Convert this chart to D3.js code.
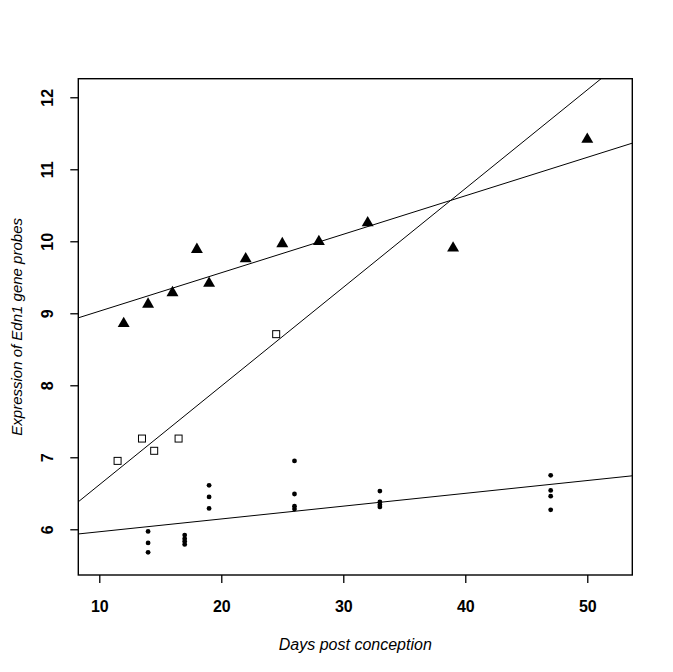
<!DOCTYPE html>
<html lang="en">
<head>
    <meta charset="UTF-8">
    <title>Edn1 expression</title>
    <script src="https://d3js.org/d3.v7.min.js"></script>
    <style>
        body { margin: 0; background: #fff; }
        .tick-label { font-family: "Liberation Sans", Arial, sans-serif; font-size: 16px; font-weight: bold; }
        .axis-title { font-family: "Liberation Sans", Arial, sans-serif; font-size: 15px; font-style: italic; }
    </style>
</head>
<body>
    <svg id="chart" width="673" height="672"></svg>
    <script>
        // group 1: filled triangles
        const triDays = [12, 14, 16, 18, 19, 22, 25, 28, 32, 39, 50];
        const triExpr = [8.88, 9.15, 9.31, 9.91, 9.44, 9.78, 9.99, 10.02, 10.28, 9.93, 11.44];

        // group 2: open squares
        const sqDays = [11.5, 13.5, 14.5, 16.5, 24.5];
        const sqExpr = [6.95, 7.26, 7.09, 7.26, 8.71];

        // group 3: small dots
        const dotDays = [14, 14, 14, 17, 17, 17, 17, 19, 19, 19, 26, 26, 26, 26, 33, 33, 33, 33, 47, 47, 47, 47];
        const dotExpr = [5.97, 5.81, 5.68, 5.92, 5.87, 5.83, 5.79, 6.61, 6.45, 6.29,
                         6.95, 6.49, 6.32, 6.28, 6.53, 6.38, 6.34, 6.31, 6.75, 6.54, 6.46, 6.27];

        const xTicks = [10, 20, 30, 40, 50];
        const yTicks = [6, 7, 8, 9, 10, 11, 12];

        const svg = d3.select("#chart");
        const box = { left: 78.3, right: 632.3, top: 78.7, bottom: 575 };

        const x = d3.scaleLinear().domain([8.28, 53.69]).range([box.left, box.right]);
        const y = d3.scaleLinear().domain([5.365, 12.258]).range([box.bottom, box.top]);

        // least squares line, like abline(lm(y ~ x))
        function fit(xs, ys) {
            const mx = d3.mean(xs), my = d3.mean(ys);
            const sxy = d3.sum(xs, (v, i) => (v - mx) * (ys[i] - my));
            const sxx = d3.sum(xs, v => (v - mx) * (v - mx));
            const b = sxy / sxx;
            return { a: my - b * mx, b };
        }

        svg.append("clipPath").attr("id", "plot-clip")
            .append("rect")
            .attr("x", box.left).attr("y", box.top)
            .attr("width", box.right - box.left).attr("height", box.bottom - box.top);

        const plot = svg.append("g").attr("clip-path", "url(#plot-clip)");

        const xs = x.domain();
        [fit(triDays, triExpr), fit(sqDays, sqExpr), fit(dotDays, dotExpr)].forEach(f => {
            plot.append("line")
                .attr("x1", x(xs[0])).attr("y1", y(f.a + f.b * xs[0]))
                .attr("x2", x(xs[1])).attr("y2", y(f.a + f.b * xs[1]))
                .attr("stroke", "#000").attr("stroke-width", 1);
        });

        // points (triangle shifted so its box centre sits on the value, like pch 17)
        const triSize = 62;
        const triShift = Math.sqrt(triSize * 4 / Math.sqrt(3)) * Math.sqrt(3) / 2 / 6;
        plot.selectAll(".tri")
            .data(triDays.map((d, i) => [d, triExpr[i]]))
            .enter().append("path")
            .attr("d", d3.symbol(d3.symbolTriangle, triSize))
            .attr("transform", d => `translate(${x(d[0])},${y(d[1]) + triShift})`)
            .attr("fill", "#000");

        plot.selectAll(".sq")
            .data(sqDays.map((d, i) => [d, sqExpr[i]]))
            .enter().append("rect")
            .attr("x", d => x(d[0]) - 3.5).attr("y", d => y(d[1]) - 3.5)
            .attr("width", 7).attr("height", 7)
            .attr("fill", "#fff").attr("stroke", "#000").attr("stroke-width", 1);

        plot.selectAll(".dot")
            .data(dotDays.map((d, i) => [d, dotExpr[i]]))
            .enter().append("circle")
            .attr("cx", d => x(d[0])).attr("cy", d => y(d[1]))
            .attr("r", 2.4).attr("fill", "#000");

        // axes
        const xAxis = svg.append("g")
            .attr("transform", `translate(0,${box.bottom})`)
            .call(d3.axisBottom(x).tickValues(xTicks).tickFormat(d3.format("d")).tickSize(8).tickPadding(18));
        xAxis.select(".domain").remove();
        xAxis.selectAll(".tick line").attr("stroke-width", 1.3);
        xAxis.selectAll(".tick text").attr("class", "tick-label").attr("fill", "#000");

        const yAxis = svg.append("g")
            .attr("transform", `translate(${box.left},0)`)
            .call(d3.axisLeft(y).tickValues(yTicks).tickFormat(d3.format("d")).tickSize(8));
        yAxis.select(".domain").remove();
        yAxis.selectAll(".tick line").attr("stroke-width", 1.3);
        yAxis.selectAll(".tick text")
            .attr("class", "tick-label").attr("fill", "#000")
            .attr("x", 0).attr("dy", 0)
            .attr("text-anchor", "middle")
            .attr("transform", "translate(-31,0) rotate(-90)")
            .attr("dominant-baseline", "central");

        // box
        svg.append("rect")
            .attr("x", box.left).attr("y", box.top)
            .attr("width", box.right - box.left).attr("height", box.bottom - box.top)
            .attr("fill", "none").attr("stroke", "#000").attr("stroke-width", 1.4);

        svg.append("text").attr("class", "axis-title")
            .attr("x", (box.left + box.right) / 2).attr("y", 650)
            .attr("text-anchor", "middle")
            .style("font-size", "16px")
            .text("Days post conception");

        svg.append("text").attr("class", "axis-title")
            .attr("transform", `translate(22,${(box.top + box.bottom) / 2}) rotate(-90)`)
            .attr("text-anchor", "middle")
            .text("Expression of Edn1 gene probes");
    </script>
</body>
</html>
